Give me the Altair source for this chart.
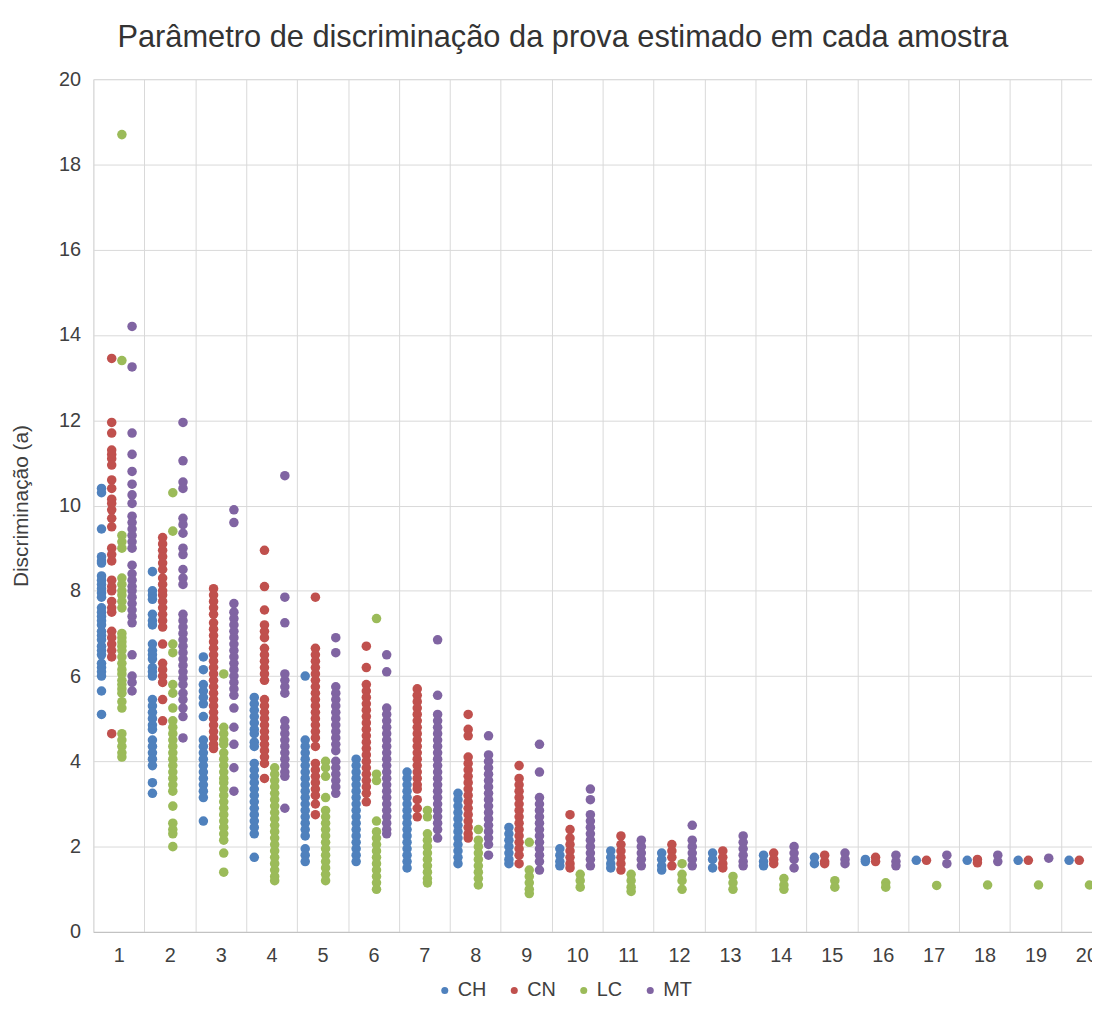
import altair as alt
import pandas as pd

SAMPLES = list(range(1, 21))
SERIES = ["CH", "CN", "LC", "MT"]
COLORS = ["#4F81BD", "#C0504D", "#9BBB59", "#8064A2"]
TITLE = "Parâmetro de discriminação da prova estimado em cada amostra"
Y_TITLE = "Discriminação (a)"

CH = [
    [10.4, 10.3, 9.45, 8.8, 8.7, 8.65, 8.35, 8.25, 8.15, 8.05, 7.95, 7.85, 7.6, 7.5, 7.4, 7.3, 7.2, 7.05, 6.95, 6.85, 6.7, 6.6, 6.5, 6.3, 6.2, 6.1, 6.0, 5.65, 5.1],
    [8.45, 8.0, 7.9, 7.8, 7.45, 7.3, 7.2, 6.75, 6.6, 6.5, 6.4, 6.2, 6.1, 6.0, 5.45, 5.3, 5.15, 5.0, 4.85, 4.75, 4.5, 4.35, 4.2, 4.05, 3.9, 3.5, 3.25],
    [6.45, 6.15, 5.8, 5.65, 5.5, 5.35, 5.05, 4.5, 4.35, 4.2, 4.05, 3.9, 3.75, 3.6, 3.45, 3.3, 3.15, 2.6],
    [5.5, 5.35, 5.2, 5.05, 4.9, 4.75, 4.65, 4.45, 4.35, 3.95, 3.8, 3.65, 3.5, 3.35, 3.2, 3.05, 2.9, 2.75, 2.6, 2.45, 2.3, 1.75],
    [6.0, 4.5, 4.35, 4.2, 4.05, 3.9, 3.75, 3.6, 3.45, 3.3, 3.15, 3.0, 2.85, 2.7, 2.55, 2.4, 2.25, 1.95, 1.8, 1.65],
    [4.05, 3.9, 3.75, 3.6, 3.45, 3.3, 3.15, 3.0, 2.85, 2.7, 2.55, 2.4, 2.25, 2.1, 1.95, 1.8, 1.65],
    [3.75, 3.6, 3.45, 3.3, 3.15, 3.0, 2.85, 2.7, 2.55, 2.4, 2.25, 2.1, 1.95, 1.8, 1.65, 1.5],
    [3.25, 3.1, 2.95, 2.8, 2.65, 2.5, 2.35, 2.2, 2.05, 1.9, 1.75, 1.6],
    [2.45, 2.3, 2.15, 2.0, 1.85, 1.7, 1.6],
    [1.95, 1.8, 1.65, 1.55],
    [1.9, 1.75, 1.6, 1.5],
    [1.85, 1.7, 1.55, 1.45],
    [1.85, 1.7, 1.5],
    [1.8, 1.65, 1.55],
    [1.75, 1.6],
    [1.7, 1.65],
    [1.68],
    [1.68],
    [1.68],
    [1.68],
]

CN = [
    [13.45, 11.95, 11.7, 11.3, 11.2, 11.1, 10.95, 10.6, 10.4, 10.15, 10.05, 9.9, 9.7, 9.5, 9.0, 8.85, 8.7, 8.25, 8.1, 8.0, 7.75, 7.6, 7.5, 7.05, 6.9, 6.75, 6.6, 6.45, 4.65],
    [9.25, 9.1, 8.95, 8.8, 8.65, 8.5, 8.3, 8.15, 8.0, 7.9, 7.75, 7.6, 7.45, 7.3, 7.15, 6.75, 6.3, 6.15, 6.0, 5.85, 5.45, 4.95],
    [8.05, 7.9, 7.75, 7.6, 7.45, 7.25, 7.1, 6.95, 6.8, 6.65, 6.5, 6.35, 6.2, 6.05, 5.9, 5.75, 5.6, 5.45, 5.3, 5.15, 5.0, 4.85, 4.7, 4.55, 4.4, 4.3],
    [8.95, 8.1, 7.55, 7.2, 7.05, 6.9, 6.65, 6.5, 6.35, 6.2, 6.05, 5.9, 5.45, 5.3, 5.15, 5.0, 4.85, 4.7, 4.55, 4.4, 4.25, 4.1, 3.95, 3.6],
    [7.85, 6.65, 6.5, 6.35, 6.2, 6.05, 5.9, 5.75, 5.6, 5.45, 5.3, 5.15, 5.0, 4.85, 4.7, 4.55, 4.35, 3.95, 3.8, 3.65, 3.5, 3.35, 3.2, 3.0, 2.75],
    [6.7, 6.2, 5.8, 5.65, 5.5, 5.35, 5.2, 5.05, 4.9, 4.75, 4.6, 4.45, 4.3, 4.15, 4.0, 3.85, 3.7, 3.55, 3.4, 3.25, 3.05],
    [5.7, 5.55, 5.4, 5.25, 5.1, 4.95, 4.8, 4.65, 4.5, 4.35, 4.2, 4.05, 3.9, 3.75, 3.6, 3.45, 3.35, 3.1, 2.9, 2.7],
    [5.1, 4.75, 4.6, 4.1, 3.95, 3.8, 3.65, 3.5, 3.35, 3.2, 3.05, 2.9, 2.75, 2.6, 2.45, 2.3, 2.2],
    [3.9, 3.6, 3.45, 3.3, 3.15, 3.0, 2.85, 2.7, 2.55, 2.4, 2.25, 2.1, 1.95, 1.8, 1.6],
    [2.75, 2.4, 2.2, 2.05, 1.9, 1.75, 1.6, 1.5],
    [2.25, 2.05, 1.9, 1.75, 1.6, 1.45],
    [2.05, 1.9, 1.75, 1.55],
    [1.9, 1.75, 1.6, 1.5],
    [1.85, 1.7, 1.6],
    [1.8, 1.65, 1.6],
    [1.75, 1.65],
    [1.68],
    [1.7, 1.62],
    [1.68],
    [1.68],
]

LC = [
    [18.7, 13.4, 9.3, 9.15, 9.0, 8.3, 8.15, 8.0, 7.9, 7.75, 7.6, 7.0, 6.9, 6.8, 6.7, 6.6, 6.45, 6.3, 6.15, 6.05, 5.9, 5.8, 5.7, 5.6, 5.4, 5.25, 4.65, 4.5, 4.35, 4.2, 4.1],
    [10.3, 9.4, 6.75, 6.55, 5.8, 5.6, 5.25, 4.95, 4.8, 4.65, 4.5, 4.35, 4.2, 4.05, 3.9, 3.75, 3.6, 3.45, 3.3, 2.95, 2.55, 2.4, 2.3, 2.0],
    [6.05, 4.8, 4.65, 4.5, 4.4, 4.2, 4.05, 3.9, 3.75, 3.6, 3.5, 3.35, 3.2, 3.05, 2.9, 2.75, 2.6, 2.45, 2.3, 2.15, 1.85, 1.4],
    [3.85, 3.7, 3.55, 3.4, 3.25, 3.1, 2.95, 2.8, 2.65, 2.5, 2.35, 2.2, 2.05, 1.9, 1.75, 1.6, 1.45, 1.3, 1.2],
    [4.0, 3.85, 3.65, 3.15, 2.85, 2.7, 2.55, 2.4, 2.25, 2.1, 1.95, 1.8, 1.65, 1.5, 1.35, 1.2],
    [7.35, 3.7, 3.55, 2.6, 2.35, 2.2, 2.05, 1.9, 1.75, 1.6, 1.45, 1.3, 1.15, 1.0],
    [2.85, 2.7, 2.3, 2.15, 2.0, 1.85, 1.7, 1.55, 1.4, 1.25, 1.15],
    [2.4, 2.15, 2.0, 1.85, 1.7, 1.55, 1.4, 1.25, 1.1],
    [2.1, 1.45, 1.3, 1.15, 1.0, 0.9],
    [1.35, 1.2, 1.05],
    [1.35, 1.2, 1.05, 0.95],
    [1.6, 1.35, 1.2, 1.0],
    [1.3, 1.15, 1.0],
    [1.25, 1.1, 1.0],
    [1.2, 1.05],
    [1.15, 1.05],
    [1.09],
    [1.1],
    [1.1],
    [1.1],
]

MT = [
    [14.2, 13.25, 11.7, 11.2, 10.8, 10.5, 10.25, 10.05, 9.75, 9.6, 9.45, 9.3, 9.15, 9.0, 8.6, 8.4, 8.25, 8.1, 8.0, 7.85, 7.7, 7.55, 7.4, 7.25, 6.5, 6.0, 5.85, 5.65],
    [11.95, 11.05, 10.55, 10.4, 9.7, 9.55, 9.35, 9.0, 8.85, 8.5, 8.3, 8.15, 7.45, 7.3, 7.15, 7.0, 6.85, 6.7, 6.55, 6.4, 6.25, 6.1, 5.95, 5.8, 5.6, 5.45, 5.25, 5.05, 4.55],
    [9.9, 9.6, 7.7, 7.5, 7.35, 7.2, 7.05, 6.9, 6.75, 6.6, 6.45, 6.3, 6.15, 6.0, 5.85, 5.7, 5.55, 5.25, 4.8, 4.4, 3.85, 3.3],
    [10.7, 7.85, 7.25, 6.05, 5.9, 5.75, 5.6, 4.95, 4.8, 4.65, 4.5, 4.35, 4.2, 4.05, 3.9, 3.75, 3.65, 2.9],
    [6.9, 6.55, 5.75, 5.6, 5.45, 5.3, 5.15, 5.0, 4.85, 4.7, 4.55, 4.4, 4.25, 4.0, 3.85, 3.7, 3.55, 3.4, 3.25],
    [6.5, 6.1, 5.25, 5.1, 4.95, 4.8, 4.65, 4.5, 4.35, 4.2, 4.05, 3.9, 3.75, 3.6, 3.45, 3.3, 3.15, 3.0, 2.85, 2.7, 2.55, 2.4, 2.3],
    [6.85, 5.55, 5.1, 4.95, 4.8, 4.65, 4.5, 4.35, 4.2, 4.05, 3.9, 3.75, 3.6, 3.45, 3.3, 3.15, 3.0, 2.85, 2.7, 2.55, 2.4, 2.2],
    [4.6, 4.15, 4.0, 3.85, 3.7, 3.55, 3.4, 3.25, 3.1, 2.95, 2.8, 2.65, 2.5, 2.35, 2.2, 2.05, 1.8],
    [4.4, 3.75, 3.15, 3.0, 2.85, 2.7, 2.55, 2.4, 2.25, 2.1, 1.95, 1.8, 1.65, 1.45],
    [3.35, 3.1, 2.75, 2.6, 2.45, 2.3, 2.15, 2.0, 1.85, 1.7, 1.55],
    [2.15, 2.0, 1.85, 1.7, 1.55],
    [2.5, 2.15, 2.0, 1.85, 1.7, 1.55],
    [2.25, 2.1, 1.95, 1.8, 1.65, 1.55],
    [2.0, 1.85, 1.7, 1.5],
    [1.85, 1.7, 1.6],
    [1.8, 1.65, 1.55],
    [1.8, 1.6],
    [1.8, 1.65],
    [1.73],
    [1.72],
]

rows = []
for name, series in zip(SERIES, [CH, CN, LC, MT]):
    for s, col in zip(SAMPLES, series):
        for v in col:
            rows.append({"amostra": s, "serie": name, "a": v})
df = pd.DataFrame(rows)

FONT = "Liberation Sans"
TEXT = "#404040"
GRID = "#D9D9D9"

offset_expr = ("datum.serie === 'CH' ? -0.34 : datum.serie === 'CN' ? -0.14 : "
               "datum.serie === 'LC' ? 0.06 : 0.26")

x_values = [k / 2 for k in range(1, 41)]

chart = (
    alt.Chart(df)
    .transform_calculate(pos=f"datum.amostra + ({offset_expr})")
    .mark_circle(size=92, opacity=1, clip=True)
    .encode(
        x=alt.X(
            "pos:Q",
            scale=alt.Scale(domain=[0.5, 20.11], nice=False, zero=False),
            axis=alt.Axis(
                values=x_values,
                title=None,
                grid=True,
                gridColor=GRID,
                gridWidth=1,
                gridOpacity={"condition": {"test": "datum.value % 1 !== 0", "value": 1}, "value": 0},
                labelExpr="datum.value % 1 === 0 ? toString(datum.value) : ''",
                labelOverlap=False,
                labelFlush=False,
                labelBound=False,
                ticks=False,
                domain=True,
                domainColor="#BFBFBF",
                domainWidth=1,
                labelFontSize=20,
                labelColor=TEXT,
                labelFont=FONT,
                labelPadding=14,
            ),
        ),
        y=alt.Y(
            "a:Q",
            scale=alt.Scale(domain=[0, 20], nice=False),
            axis=alt.Axis(
                values=list(range(0, 21, 2)),
                title=Y_TITLE,
                grid=True,
                gridColor=GRID,
                gridWidth=1,
                ticks=False,
                domain=False,
                labelFontSize=20,
                labelColor=TEXT,
                labelFont=FONT,
                labelPadding=13,
                titleFont=FONT,
                titleFontSize=21,
                titleFontWeight="normal",
                titleColor=TEXT,
                titleX=-62,
                titleY=429.5,
            ),
        ),
        color=alt.Color(
            "serie:N",
            scale=alt.Scale(domain=SERIES, range=COLORS),
            legend=alt.Legend(
                orient="none",
                legendX=344,
                legendY=908,
                direction="horizontal",
                title=None,
                symbolType="circle",
                symbolSize=50,
                symbolStrokeWidth=0,
                labelFontSize=20,
                labelFont=FONT,
                labelColor=TEXT,
                labelOffset=3,
                columnPadding=18,
                padding=0,
            ),
        ),
    )
    .properties(
        width=1006,
        height=859,
        title=alt.TitleParams(
            text=TITLE,
            font=FONT,
            fontSize=31,
            fontWeight="normal",
            color="#333333",
            anchor="middle",
            dx=-30,
            offset=15,
        ),
        padding={"left": 86, "top": 68, "right": 0, "bottom": 80},
        autosize=alt.AutoSizeParams(type="none"),
    )
    .configure_view(stroke=None)
    .configure(font=FONT, background="white")
)

chart.save("out.html", embed_options={"renderer": "svg", "actions": False})
